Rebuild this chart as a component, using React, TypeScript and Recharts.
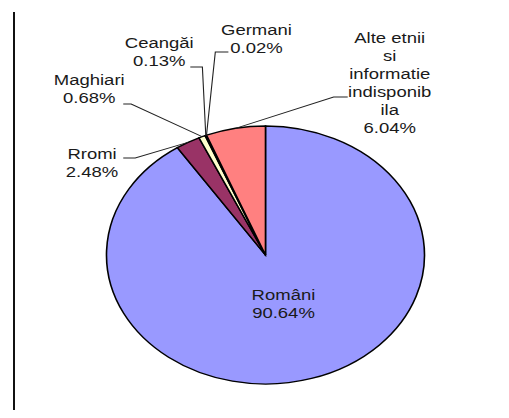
import React from 'react';
import { PieChart, Pie, Cell } from 'recharts';

const categories = ['Români', 'Rromi', 'Maghiari', 'Ceangăi', 'Germani', 'Alte etnii\nsi\ninformatie\nindisponib\nila'];
const shares = [90.64, 2.48, 0.68, 0.13, 0.02, 6.04];
const colors = ['#9999FF', '#993366', '#FFFFCC', '#CCFFFF', '#660066', '#FF8080'];

// label placement (style only): text anchor & leader-line elbow, relative to pie centre (unstretched frame)
const labelLayout = [
  { tx: 14.6, ty: 45, from: null, elbow: null },
  { tx: -140.7, ty: -96, from: [-115.4, -97], elbow: [-105.7, -97] },
  { tx: -143, ty: -170, from: [-115.4, -151], elbow: [-109, -151] },
  { tx: -86.2, ty: -207, from: [-61, -188], elbow: [-51.2, -188] },
  { tx: -7.3, ty: -220, from: [-30.1, -203], elbow: [-40.7, -203] },
  { tx: 100.8, ty: -212, from: [66.7, -158], elbow: [55.3, -158] },
];

const data = categories.map((c, i) => ({ name: c, value: shares[i] }));

const STRETCH = 1.2326;
const RAD = Math.PI / 180;

const renderLabel = (props: any) => {
  const { cx, cy, midAngle, outerRadius, index, value } = props;
  const lay = labelLayout[index];
  const lines = String(categories[index]).split('\n');
  lines.push(`${Number(value).toFixed(2)}%`);
  const ex = cx + outerRadius * Math.cos(-midAngle * RAD);
  const ey = cy + outerRadius * Math.sin(-midAngle * RAD);
  return (
    <g key={`lbl-${index}`}>
      {lay.from && lay.elbow && (
        <polyline
          points={`${cx + lay.from[0]},${cy + lay.from[1]} ${cx + lay.elbow[0]},${cy + lay.elbow[1]} ${ex},${ey}`}
          fill="none"
          stroke="#222"
          strokeWidth={0.9}
        />
      )}
      <text
        x={cx + lay.tx}
        y={cy + lay.ty}
        textAnchor="middle"
        fontFamily="'Liberation Sans', Arial, sans-serif"
        fontSize={15}
        fill="#1a1a1a"
      >
        {lines.map((l, i) => (
          <tspan key={i} x={cx + lay.tx} dy={i === 0 ? 0 : 18}>
            {l}
          </tspan>
        ))}
      </text>
    </g>
  );
};

export default function App() {
  return (
    <div style={{ position: 'relative', width: 493, height: 402 }}>
      <div
        style={{ position: 'absolute', left: 5, top: 4, width: 2, height: 403, background: '#111' }}
      />
      <div
        style={{
          position: 'absolute',
          left: 0,
          top: 0,
          width: 400,
          height: 402,
          transform: `scaleX(${STRETCH})`,
          transformOrigin: '0 0',
        }}
      >
        <PieChart width={400} height={402} margin={{ top: 0, right: 0, bottom: 0, left: 0 }}>
          <Pie
            data={data}
            dataKey="value"
            nameKey="name"
            cx={208.9}
            cy={247}
            outerRadius={129}
            startAngle={90}
            endAngle={-270}
            stroke="#000"
            strokeWidth={1.3}
            label={renderLabel}
            labelLine={false}
            isAnimationActive={false}
          >
            {data.map((d, i) => (
              <Cell key={d.name} fill={colors[i]} />
            ))}
          </Pie>
        </PieChart>
      </div>
    </div>
  );
}
